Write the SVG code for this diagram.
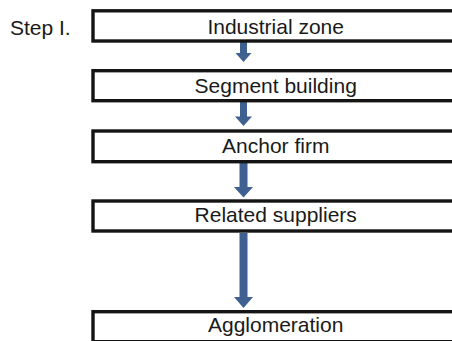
<svg xmlns="http://www.w3.org/2000/svg" width="452" height="341" viewBox="0 0 452 341">
  <style>
    .box { fill: #ffffff; stroke: #141414; stroke-width: 3.4; }
    .label { font-family: "Liberation Sans", Arial, sans-serif; font-size: 21px; fill: #1a1a1a; text-anchor: middle; }
    .step { font-family: "Liberation Sans", Arial, sans-serif; font-size: 21px; fill: #1a1a1a; }
    .arrow { fill: #3e6191; }
  </style>
  <rect width="452" height="341" fill="#ffffff"/>

  <text class="step" x="10" y="35">Step I.</text>

  <g id="connectors">
    <!-- block arrows: shaft + head, centred on x = 243.5 -->
    <polygon class="arrow" points="240,42 247,42 247,53 251.5,53 243.5,62 235.5,53 240,53"/>
    <polygon class="arrow" points="240,102 247,102 247,116.5 252,116.5 243.5,126 235,116.5 240,116.5"/>
    <polygon class="arrow" points="239.5,163 247.5,163 247.5,187 253,187 243.5,197.5 234,187 239.5,187"/>
    <polygon class="arrow" points="239.5,233 247.5,233 247.5,297 253,297 243.5,308 234,297 239.5,297"/>
  </g>

  <g id="industrial-zone">
    <rect class="box" x="93" y="10.8" width="365" height="30.2"/>
    <text class="label" x="275.7" y="33.5">Industrial zone</text>
  </g>

  <g id="segment-building">
    <rect class="box" x="93" y="70.7" width="365" height="30"/>
    <text class="label" x="275.7" y="93">Segment building</text>
  </g>

  <g id="anchor-firm">
    <rect class="box" x="93" y="131" width="365" height="30.7"/>
    <text class="label" x="275.7" y="152.5">Anchor firm</text>
  </g>

  <g id="related-suppliers">
    <rect class="box" x="93" y="201" width="365" height="30"/>
    <text class="label" x="275.7" y="222">Related suppliers</text>
  </g>

  <g id="agglomeration">
    <rect class="box" x="93" y="311.7" width="365" height="30"/>
    <text class="label" x="275.7" y="332">Agglomeration</text>
  </g>
</svg>
